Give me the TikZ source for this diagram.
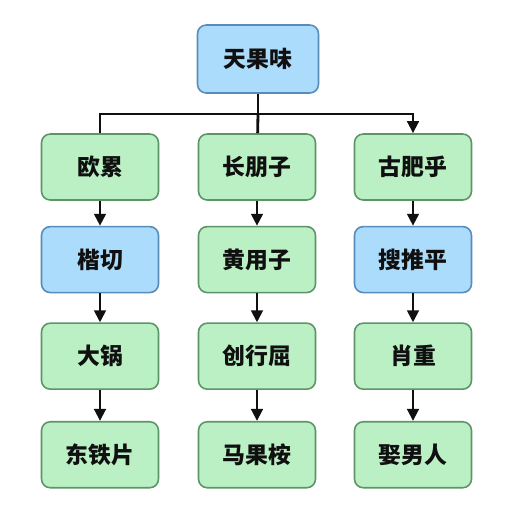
\documentclass[tikz,border=0pt]{standalone}
\usepackage{fontspec}
\usepackage{xcolor}
\usetikzlibrary{arrows.meta, positioning}
\newfontfamily\cjk{Noto Sans CJK SC}
\definecolor{leafGreen}{RGB}{186,240,196}
\definecolor{leafEdge}{RGB}{92,150,104}
\definecolor{keyBlue}{RGB}{172,220,252}
\definecolor{keyEdge}{RGB}{88,140,186}
\definecolor{darkText}{RGB}{16,16,16}
\tikzset{
    greenbox/.style={
        rectangle,
        draw=leafEdge,
        line width=0.9pt,
        rounded corners=5pt,
        align=center,
        fill=leafGreen,
        minimum width=2.34cm,
        minimum height=1.32cm,
        font=\cjk\bfseries\fontsize{13}{15}\selectfont,
        text=darkText
    },
    bluebox/.style={
        greenbox,
        draw=keyEdge,
        fill=keyBlue
    },
    flowline/.style={line width=1.6pt, draw=darkText},
    flowarrow/.style={-{Triangle[length=2.4mm, width=2.3mm]}, line width=1.6pt, draw=darkText}
}
\begin{document}
\begin{tikzpicture}[node distance=0.56cm]
    \useasboundingbox (0,0) rectangle (10.24,-10.24);
    \fill[white] (0,0) rectangle (10.24,-10.24);
    \node[bluebox, minimum width=2.42cm, minimum height=1.36cm] (root) at (5.16,-1.18) {天果味};
    % column heads
    \node[greenbox] (ouji) at (2.0,-3.34) {欧累};
    \node[greenbox] (chang) at (5.14,-3.34) {长朋子};
    \node[greenbox] (gufei) at (8.26,-3.34) {古肥乎};
    % left column
    \node[bluebox, below=0.5cm of ouji] (kaiqie) {楷切};
    \node[greenbox, below=0.58cm of kaiqie] (daguo) {大锅};
    \node[greenbox, below=0.62cm of daguo] (dongtie) {东铁片};
    % middle column
    \node[greenbox, below=0.5cm of chang] (huang) {黄用子};
    \node[greenbox, below=0.58cm of huang] (chuang) {创行屈};
    \node[greenbox, below=0.62cm of chuang] (maguo) {马果桉};
    % right column
    \node[bluebox, below=0.5cm of gufei] (soutui) {搜推平};
    \node[greenbox, below=0.58cm of soutui] (xiao) {肖重};
    \node[greenbox, below=0.62cm of xiao] (qunan) {娶男人};
    % split bar
    \coordinate (split) at (5.16,-2.28);
    \draw[flowline] (root) -- (split);
    \draw[flowline] (split) -- (chang);
    \draw[flowarrow] (ouji) |- (split) -| (gufei);
    \draw[flowarrow] (ouji) -- (kaiqie);
    \draw[flowarrow] (kaiqie) -- (daguo);
    \draw[flowarrow] (daguo) -- (dongtie);
    \draw[flowarrow] (chang) -- (huang);
    \draw[flowarrow] (huang) -- (chuang);
    \draw[flowarrow] (chuang) -- (maguo);
    \draw[flowarrow] (gufei) -- (soutui);
    \draw[flowarrow] (soutui) -- (xiao);
    \draw[flowarrow] (xiao) -- (qunan);
\end{tikzpicture}
\end{document}
